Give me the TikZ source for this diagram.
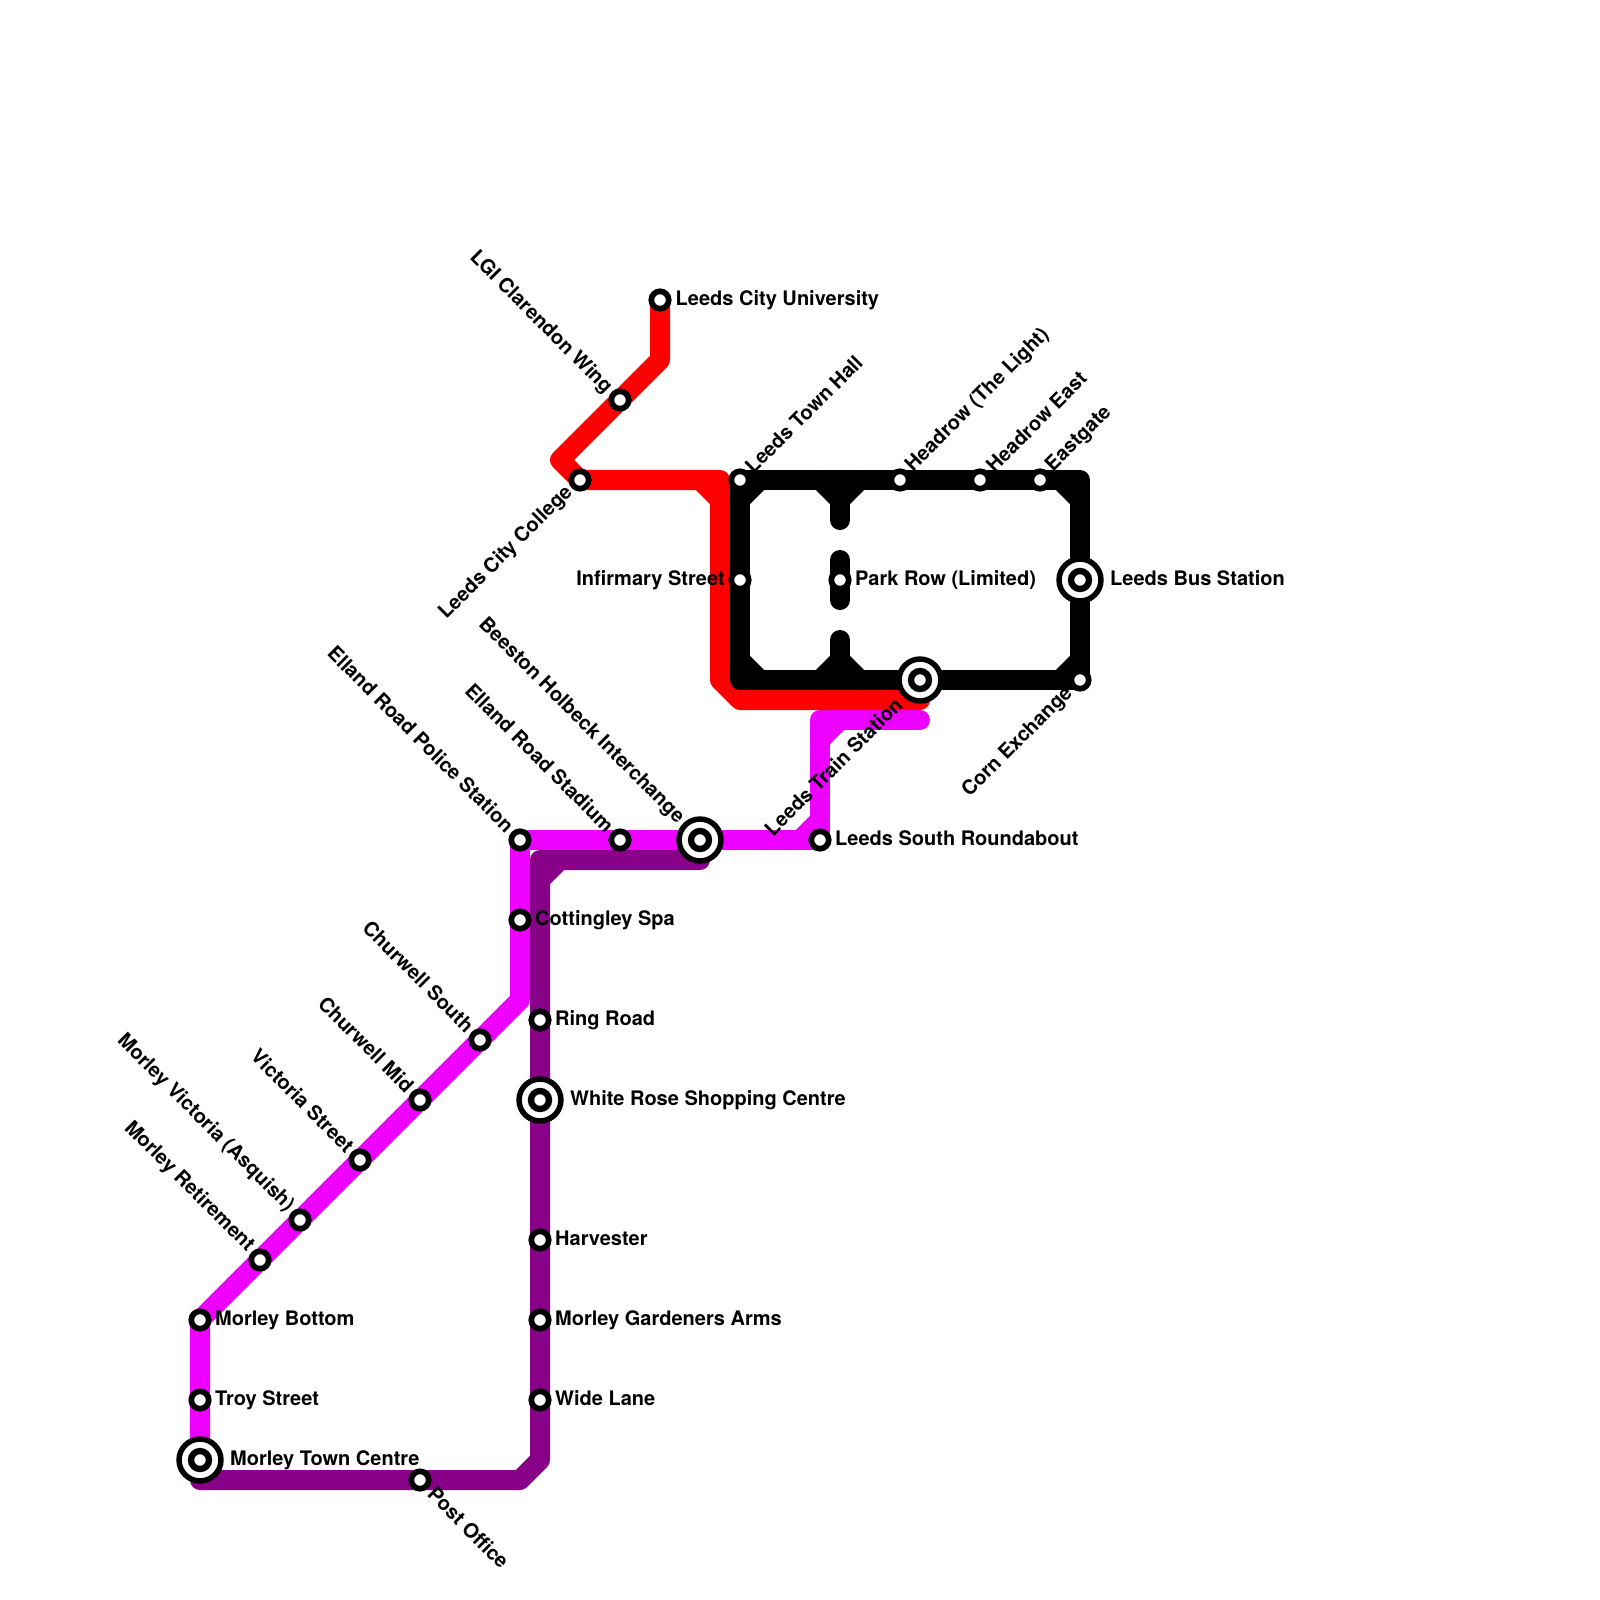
\documentclass[tikz,border=0pt]{standalone}
\usepackage{fontspec}
\setmainfont{TeX Gyre Heros}
\usetikzlibrary{calc,backgrounds}
\definecolor{magentaline}{HTML}{EE00FF}
\definecolor{purpleline}{HTML}{880088}
\newcommand{\bevel}[4]{\draw[#1] ($(#2)+(#3,0)$) -- ($(#2)+(0,#4)$);}
\tikzset{
    route/.style={line width=0.2cm, line cap=round, line join=round},
    stn/.style={circle, draw=black, fill=white, line width=0.057cm, inner sep=0pt, outer sep=0pt, minimum size=0.174cm},
    hub/.style={circle, draw=black, fill=white, line width=0.055cm, inner sep=0pt, outer sep=0pt, minimum size=0.419cm},
    hubcore/.style={stn, line width=0.063cm, minimum size=0.18cm},
    lbl/.style={font=\fontsize{5.69}{7}\selectfont\bfseries, inner sep=0pt, text=black},
    lblR/.style={lbl, anchor=base west},
    lblL/.style={lbl, anchor=base east},
    lblNE/.style={lbl, anchor=west, rotate=45},
    lblSW/.style={lbl, anchor=east, rotate=45},
    lblNW/.style={lbl, anchor=east, rotate=-45},
    lblSE/.style={lbl, anchor=west, rotate=-45}
}
\begin{document}
\begin{tikzpicture}[x=0.01cm, y=-0.01cm]
    \useasboundingbox (0,0) rectangle (1600,1600);

    % Red line stations
    \node[stn] (CityUni) at (660,300) {};
    \node[stn] (Clarendon) at (620,400) {};
    \node[stn] (CityCollege) at (580,480) {};

    % Black line stations
    \node[stn] (TownHall) at (740,480) {};
    \node[stn] (Infirmary) at (740,580) {};
    \node[stn] (ParkRow) at (840,580) {};
    \node[stn] (Headrow) at (900,480) {};
    \node[stn] (HeadrowEast) at (980,480) {};
    \node[stn] (Eastgate) at (1040,480) {};
    \node[hub] (BusStation) at (1080,580) {};
    \node[hubcore] (BusStationIn) at (1080,580) {};
    \node[stn] (CornExchange) at (1080,680) {};
    \node[hub] (TrainStation) at (920,680) {};
    \node[hubcore] (TrainStationIn) at (920,680) {};

    % Magenta line stations
    \node[stn] (SouthRbt) at (820,840) {};
    \node[hub] (Beeston) at (700,840) {};
    \node[hubcore] (BeestonIn) at (700,840) {};
    \node[stn] (Stadium) at (620,840) {};
    \node[stn] (Police) at (520,840) {};
    \node[stn] (Cottingley) at (520,920) {};
    \node[stn] (ChurwellS) at (480,1040) {};
    \node[stn] (ChurwellM) at (420,1100) {};
    \node[stn] (Victoria) at (360,1160) {};
    \node[stn] (Asquith) at (300,1220) {};
    \node[stn] (Retirement) at (260,1260) {};
    \node[stn] (Bottom) at (200,1320) {};
    \node[stn] (Troy) at (200,1400) {};
    \node[hub] (TownCentre) at (200,1460) {};
    \node[hubcore] (TownCentreIn) at (200,1460) {};

    % Purple line stations
    \node[stn] (PostOffice) at (420,1480) {};
    \node[stn] (WideLane) at (540,1400) {};
    \node[stn] (Gardeners) at (540,1320) {};
    \node[stn] (Harvester) at (540,1240) {};
    \node[hub] (WhiteRose) at (540,1100) {};
    \node[hubcore] (WhiteRoseIn) at (540,1100) {};
    \node[stn] (RingRoad) at (540,1020) {};

    % Bends
    \coordinate (RedA) at (660,360);
    \coordinate (RedB) at (560,460);
    \coordinate (RedC) at (720,480);
    \coordinate (RedD) at (720,680);
    \coordinate (RedE) at (740,700);
    \coordinate (RedEnd) at (920,700);
    \coordinate (MagA) at (820,720);
    \coordinate (MagEnd) at (920,720);
    \coordinate (MagB) at (520,1000);
    \coordinate (PurEnd) at (700,860);
    \coordinate (PurA) at (540,860);
    \coordinate (PurB) at (540,1460);
    \coordinate (PurC) at (520,1480);
    \coordinate (PurD) at (200,1480);
    \coordinate (BlackNE) at (1080,480);
    \coordinate (BlackSW) at (740,680);
    \coordinate (ParkTop) at (840,480);
    \coordinate (ParkTopEnd) at (840,520);
    \coordinate (ParkUp) at (840,560);
    \coordinate (ParkDown) at (840,600);
    \coordinate (ParkBotEnd) at (840,640);
    \coordinate (ParkBot) at (840,680);

    \begin{pgfonlayer}{background}
        % Magenta line
        \draw[route, magentaline] (Police.center) -- (SouthRbt.center) -- (MagA) -- (MagEnd);
        \draw[route, magentaline] (Police.center) -- (MagB) -- (Bottom.center) -- (TownCentre.center);
        \bevel{route, magentaline}{SouthRbt}{-20}{-20}
        \bevel{route, magentaline}{MagA}{20}{20}

        % Purple line
        \draw[route, purpleline] (PurEnd) -- (PurA) -- (PurB) -- (PurC) -- (PurD) -- (TownCentre.center);
        \bevel{route, purpleline}{PurA}{20}{20}

        % Red line
        \draw[route, red] (CityUni.center) -- (RedA) -- (RedB) -- (CityCollege.center) -- (RedC) -- (RedD) -- (RedE) -- (RedEnd);
        \bevel{route, red}{RedC}{-20}{20}

        % Black loop
        \draw[route, black] (TownHall.center) -- (BlackNE) -- (CornExchange.center) -- (BlackSW) -- cycle;
        \bevel{route, black}{TownHall}{20}{20}
        \bevel{route, black}{BlackNE}{-20}{20}
        \bevel{route, black}{CornExchange}{-20}{-20}
        \bevel{route, black}{BlackSW}{20}{-20}

        % Park Row spurs
        \draw[route, black] (ParkTop) -- (ParkTopEnd);
        \draw[route, black] (ParkUp) -- (ParkDown);
        \draw[route, black] (ParkBot) -- (ParkBotEnd);
        \bevel{route, black}{ParkTop}{-20}{20}
        \bevel{route, black}{ParkTop}{20}{20}
        \bevel{route, black}{ParkBot}{-20}{-20}
        \bevel{route, black}{ParkBot}{20}{-20}
    \end{pgfonlayer}

    % Labels
    \node[lblR] (CityUniL) at (675,305.5) {Leeds City University};
    \node[lblNW] (ClarendonL) at (609,391) {LGI Clarendon Wing};
    \node[lblSW] (CityCollegeL) at (570,489) {Leeds City College};
    \node[lblNE] (TownHallL) at (748,470) {Leeds Town Hall};
    \node[lblL] (InfirmaryL) at (725.5,585.5) {Infirmary Street};
    \node[lblR] (ParkRowL) at (854.5,585.5) {Park Row (Limited)};
    \node[lblNE] (HeadrowL) at (909,469) {Headrow (The Light)};
    \node[lblNE] (HeadrowEastL) at (989,469) {Headrow East};
    \node[lblNE] (EastgateL) at (1049,469) {Eastgate};
    \node[lblR] (BusStationL) at (1109.5,585.5) {Leeds Bus Station};
    \node[lblSW] (CornExchangeL) at (1070,690) {Corn Exchange};
    \node[lblSW] (TrainStationL) at (899,701) {Leeds Train Station};
    \node[lblR] (SouthRbtL) at (834.5,845.5) {Leeds South Roundabout};
    \node[lblNW] (BeestonL) at (681,821) {Beeston Holbeck Interchange};
    \node[lblNW] (StadiumL) at (611,829) {Elland Road Stadium};
    \node[lblNW] (PoliceL) at (511,829) {Elland Road Police Station};
    \node[lblR] (CottingleyL) at (534.5,925.5) {Cottingley Spa};
    \node[lblNW] (ChurwellSL) at (471,1029) {Churwell South};
    \node[lblNW] (ChurwellML) at (411,1089) {Churwell Mid};
    \node[lblNW] (VictoriaL) at (351,1149) {Victoria Street};
    \node[lblNW] (AsquithL) at (291,1209) {Morley Victoria (Asquish)};
    \node[lblNW] (RetirementL) at (251,1249) {Morley Retirement};
    \node[lblR] (BottomL) at (214.5,1325.5) {Morley Bottom};
    \node[lblR] (TroyL) at (214.5,1405.5) {Troy Street};
    \node[lblR] (TownCentreL) at (229.5,1465.5) {Morley Town Centre};
    \node[lblSE] (PostOfficeL) at (431,1490) {Post Office};
    \node[lblR] (WideLaneL) at (554.5,1405.5) {Wide Lane};
    \node[lblR] (GardenersL) at (554.5,1325.5) {Morley Gardeners Arms};
    \node[lblR] (HarvesterL) at (554.5,1245.5) {Harvester};
    \node[lblR] (WhiteRoseL) at (569.5,1105.5) {White Rose Shopping Centre};
    \node[lblR] (RingRoadL) at (554.5,1025.5) {Ring Road};
\end{tikzpicture}
\end{document}
